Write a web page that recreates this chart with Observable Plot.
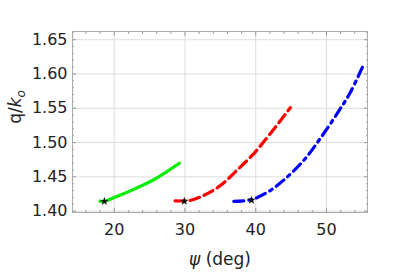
<!DOCTYPE html>
<html><head><meta charset="utf-8">
<script src="https://cdn.jsdelivr.net/npm/d3@7"></script>
<script src="https://cdn.jsdelivr.net/npm/@observablehq/plot@0.6"></script>
<style>body{margin:0;background:#fff}</style>
</head><body><div id="chart"></div>
<script>
const greenPsi = [18.0, 18.6, 20.1, 22.9, 25.8, 29.2];
const greenQ   = [1.4145, 1.4143, 1.4202, 1.4325, 1.4471, 1.4699];
const redPsi = [28.6, 29.9, 30.7, 32.6, 35.0, 37.3, 39.7, 42.05, 44.9];
const redQ   = [1.4150, 1.4148, 1.4155, 1.4227, 1.4373, 1.4592, 1.4836, 1.5129, 1.5510];
const bluePsi = [36.9, 39.46, 42.05, 44.4, 46.77, 49.1, 51.5, 53.4, 55.2];
const blueQ   = [1.4143, 1.4170, 1.4300, 1.4494, 1.4738, 1.5056, 1.5421, 1.5737, 1.6127];
const starPsi = [18.6, 29.9, 39.4];
const starQ   = [1.4143, 1.4145, 1.4160];
const xMajor = [20, 30, 40, 50];
const xMinor = d3.range(16, 56, 2).filter(v => v % 10 !== 0);
const yMajor = [1.40, 1.45, 1.50, 1.55, 1.60, 1.65];
const yMinor = d3.range(140, 167).map(v => v / 100).filter(v => Math.round(v * 100) % 5 !== 0);

const toRows = (xs, ys) => xs.map((x, i) => ({x, y: ys[i]}));
const green = toRows(greenPsi, greenQ);
const red = toRows(redPsi, redQ);
const blue = toRows(bluePsi, blueQ);
const stars = toRows(starPsi, starQ);

const tickStroke = "#999";
const chart = Plot.plot({
  width: 398, height: 272,
  marginLeft: 72, marginRight: 31, marginTop: 31, marginBottom: 60,
  style: {fontFamily: "DejaVu Sans", fontSize: "16px", color: "#222", background: "#fff"},
  x: {domain: [14.1, 55.8]},
  y: {domain: [1.398, 1.662]},
  marks: [
    Plot.ruleX(xMajor, {stroke: "#ddd", strokeWidth: 1}),
    Plot.ruleY(yMajor, {stroke: "#ddd", strokeWidth: 1}),
    Plot.axisX({ticks: xMajor, tickSize: 0, tickPadding: 11, fontSize: 16, label: null, tickFormat: d => String(d)}),
    Plot.axisY({ticks: yMajor, tickSize: 0, tickPadding: 5, fontSize: 16, label: null, tickFormat: d => d.toFixed(2)}),
    Plot.axisX({anchor: "bottom", ticks: xMajor, tickSize: -4, text: null, label: null, stroke: tickStroke}),
    Plot.axisX({anchor: "bottom", ticks: xMinor, tickSize: -2, text: null, label: null, stroke: tickStroke}),
    Plot.axisX({anchor: "top", ticks: xMajor, tickSize: -4, text: null, label: null, stroke: tickStroke}),
    Plot.axisX({anchor: "top", ticks: xMinor, tickSize: -2, text: null, label: null, stroke: tickStroke}),
    Plot.axisY({anchor: "left", ticks: yMajor, tickSize: -4, text: null, label: null, stroke: tickStroke}),
    Plot.axisY({anchor: "left", ticks: yMinor, tickSize: -2, text: null, label: null, stroke: tickStroke}),
    Plot.axisY({anchor: "right", ticks: yMajor, tickSize: -4, text: null, label: null, stroke: tickStroke}),
    Plot.axisY({anchor: "right", ticks: yMinor, tickSize: -2, text: null, label: null, stroke: tickStroke}),
    Plot.frame({stroke: "#aaa", strokeWidth: 1}),
    Plot.line(green, {x: "x", y: "y", stroke: "#00ee00", strokeWidth: 3.2, curve: "catmull-rom"}),
    Plot.line(red, {x: "x", y: "y", stroke: "#ff0000", strokeWidth: 3.2, strokeDasharray: "10,5", curve: "catmull-rom"}),
    Plot.line(blue, {x: "x", y: "y", stroke: "#0000ff", strokeWidth: 3.2, strokeDasharray: "10,5,3,5", curve: "catmull-rom"}),
    Plot.dot(stars, {x: "x", y: "y", symbol: "star", r: 2.7, fill: "#111", stroke: "none"})
  ]
});
const svg = d3.select(chart);
svg.append("text")
  .attr("x", 220).attr("y", 265)
  .attr("text-anchor", "middle")
  .attr("font-family", "DejaVu Sans").attr("font-size", 17).attr("fill", "#222")
  .call(t => { t.append("tspan").attr("font-style", "italic").text("ψ"); t.append("tspan").text(" (deg)"); });
svg.append("text")
  .attr("transform", "translate(21,107) rotate(-90)")
  .attr("text-anchor", "middle")
  .attr("font-family", "DejaVu Sans").attr("font-size", 17).attr("fill", "#222")
  .call(t => {
    t.append("tspan").text("q/");
    t.append("tspan").attr("font-style", "italic").text("k");
    t.append("tspan").attr("font-style", "italic").attr("font-size", 12).attr("dy", 4).text("o");
  });
document.getElementById("chart").appendChild(chart);
</script>
</body></html>
